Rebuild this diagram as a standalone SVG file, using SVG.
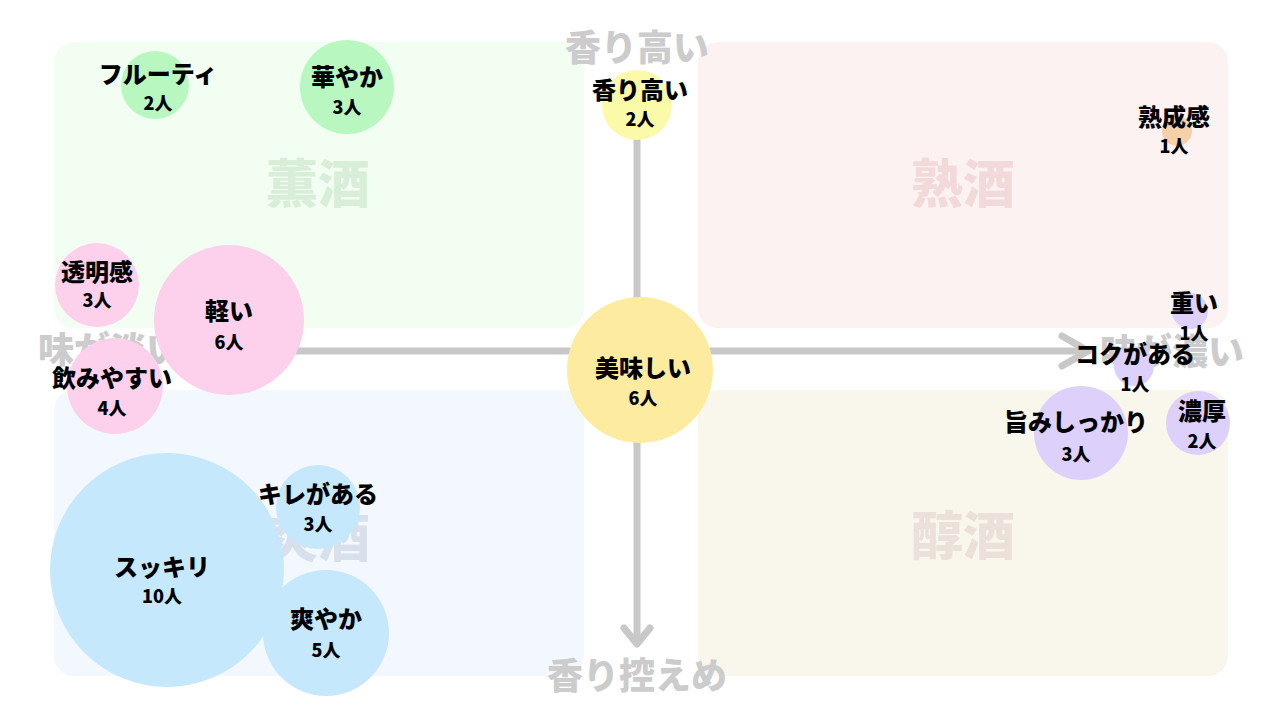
<svg xmlns="http://www.w3.org/2000/svg" width="1280" height="720" viewBox="0 0 1280 720">
<style>
text{font-family:"Noto Sans CJK JP","Noto Sans",sans-serif;font-weight:900;text-anchor:middle}
.q{font-size:52px}
.ax{font-size:36px;fill:#cccccc}
.l{font-size:24px;fill:#000}
.n{font-size:18px;fill:#000}
.g{fill:#b8f8c0}.y{fill:#fafaa8}.o{fill:#f5d0a8}.p{fill:#fdd0ec}.m{fill:#fdeca0}.v{fill:#ddd0fa}.b{fill:#c6e8fc}
</style>
<rect width="1280" height="720" fill="#fff"/>
<g id="quadrants">
<rect x="54" y="42" width="530" height="286" rx="20" fill="#f3fef3"/>
<rect x="698" y="42" width="530" height="286" rx="20" fill="#fcf2f2"/>
<rect x="54" y="390" width="530" height="286" rx="20" fill="#f3f8fe"/>
<rect x="698" y="390" width="530" height="286" rx="20" fill="#f9f7ec"/>
<text class="q" x="318" y="203" fill="#d8eed8">薫酒</text>
<text class="q" x="963" y="203" fill="#f3dada">熟酒</text>
<text class="q" x="318" y="557" fill="#d8e0ec">爽酒</text>
<text class="q" x="963" y="555" fill="#ebe0da">醇酒</text>
</g>
<g id="connectors" stroke="#c8c8c8" stroke-width="7" fill="none" stroke-linecap="round" stroke-linejoin="round">
<line x1="280" y1="351" x2="1088" y2="351"/>
<polyline points="1062,336 1088,351 1062,366"/>
<line x1="637" y1="100" x2="637" y2="642"/>
<polyline points="624,628 637,644 650,628"/>
</g>
<g id="axis-labels">
<text class="ax" x="637" y="61">香り高い</text>
<text class="ax" x="637" y="689">香り控えめ</text>
<text class="ax" x="110" y="363">味が淡い</text>
<text class="ax" x="1172" y="365">味が濃い</text>
</g>
<g id="n1"><circle class="g" cx="155" cy="85" r="34"/><text class="l" x="158" y="83">フルーティ</text><text class="n" x="158" y="110">2人</text></g>
<g id="n2"><circle class="g" cx="347" cy="87" r="47"/><text class="l" x="347" y="86">華やか</text><text class="n" x="347" y="114">3人</text></g>
<g id="n3"><circle class="y" cx="637" cy="105" r="35"/><text class="l" x="640" y="99">香り高い</text><text class="n" x="640" y="126">2人</text></g>
<g id="n4"><circle class="o" cx="1177" cy="131" r="15"/><text class="l" x="1174" y="126">熟成感</text><text class="n" x="1174" y="153">1人</text></g>
<g id="n5"><circle class="p" cx="97" cy="285" r="42"/><text class="l" x="97" y="281">透明感</text><text class="n" x="97" y="307">3人</text></g>
<g id="n6"><circle class="p" cx="229" cy="320" r="75"/><text class="l" x="229" y="320">軽い</text><text class="n" x="229" y="349">6人</text></g>
<g id="n7"><circle class="p" cx="115" cy="386" r="48"/><text class="l" x="112" y="387">飲みやすい</text><text class="n" x="112" y="415">4人</text></g>
<g id="n8"><circle class="m" cx="640" cy="370" r="73"/><text class="l" x="643" y="377">美味しい</text><text class="n" x="643" y="405">6人</text></g>
<g id="n9"><circle class="v" cx="1190" cy="311" r="18"/><text class="l" x="1194" y="312">重い</text><text class="n" x="1194" y="340">1人</text></g>
<g id="n10"><circle class="v" cx="1134" cy="366" r="20"/><text class="l" x="1135" y="363">コクがある</text><text class="n" x="1135" y="391">1人</text></g>
<g id="n11"><circle class="v" cx="1081" cy="433" r="47"/><text class="l" x="1076" y="431">旨みしっかり</text><text class="n" x="1076" y="461">3人</text></g>
<g id="n12"><circle class="v" cx="1198" cy="423" r="32"/><text class="l" x="1202" y="420">濃厚</text><text class="n" x="1202" y="448">2人</text></g>
<g id="n13"><circle class="b" cx="318" cy="507" r="42"/><text class="l" x="318" y="503">キレがある</text><text class="n" x="318" y="531">3人</text></g>
<g id="n14"><circle class="b" cx="167" cy="570" r="117"/><text class="l" x="162" y="576">スッキリ</text><text class="n" x="162" y="603">10人</text></g>
<g id="n15"><circle class="b" cx="326" cy="633" r="63"/><text class="l" x="326" y="628">爽やか</text><text class="n" x="326" y="657">5人</text></g>
</svg>
